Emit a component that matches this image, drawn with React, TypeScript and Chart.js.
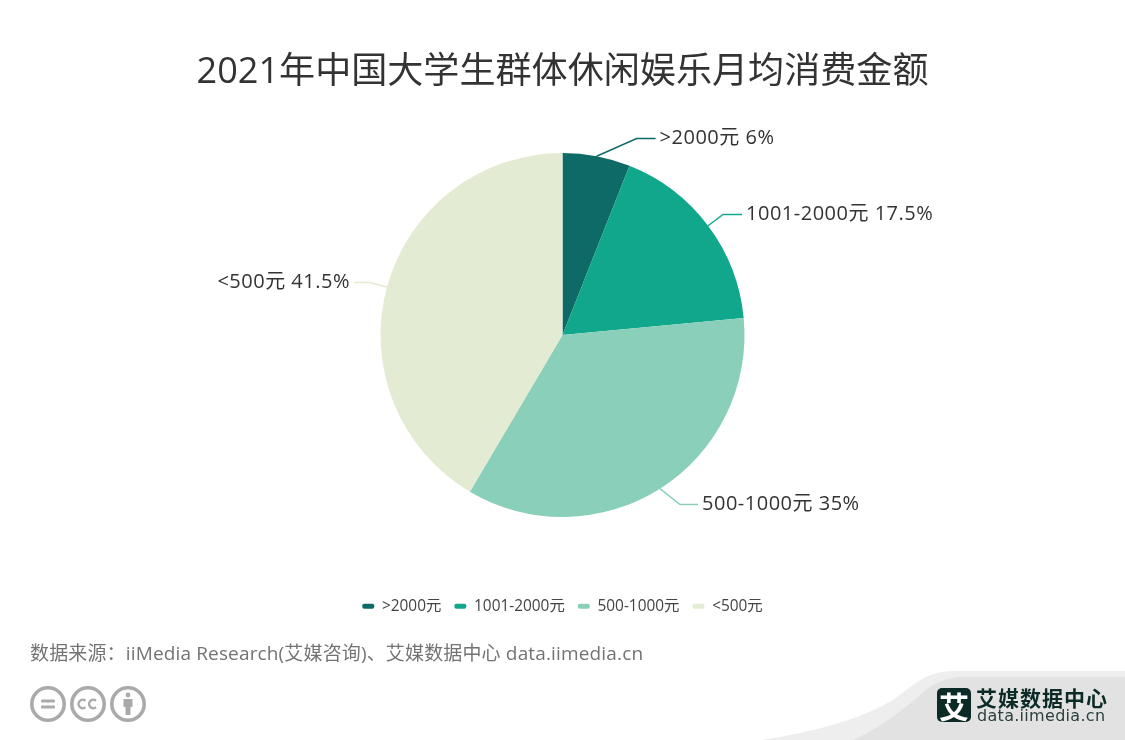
import React, { useEffect, useRef } from "react";
import { Chart, registerables } from "chart.js";

Chart.register(...registerables);

const TITLE = "2021年中国大学生群体休闲娱乐月均消费金额";
const SOURCE = "数据来源\uFF1AiiMedia Research(艾媒咨询)、艾媒数据中心 data.iimedia.cn";
const categories = [">2000元", "1001-2000元", "500-1000元", "<500元"];
const values = [6, 17.5, 35, 41.5];
const colors = ["#0d6a67", "#11a78c", "#8acfba", "#e3ebd3"];
const leaderElbow = [
  { dx: 40, dy: -18, run: 19 },
  { dx: 15, dy: -12, run: 19 },
  { dx: 20, dy: 15, run: 18 },
  { dx: -17, dy: -5, run: 16 },
];
const FONT = '"Open Sans","Noto Sans CJK SC",sans-serif';

const leaderPlugin = {
  id: "leaders",
  afterDatasetsDraw(chart: any) {
    const ctx = chart.ctx;
    chart.getDatasetMeta(0).data.forEach((arc: any, i: number) => {
      const mid = (arc.startAngle + arc.endAngle) / 2;
      const x0 = arc.x + arc.outerRadius * Math.cos(mid);
      const y0 = arc.y + arc.outerRadius * Math.sin(mid);
      const x1 = x0 + leaderElbow[i].dx;
      const y1 = Math.round(y0 + leaderElbow[i].dy) + 0.5;
      const dir = leaderElbow[i].dx > 0 ? 1 : -1;
      const x2 = x1 + dir * leaderElbow[i].run;
      ctx.save();
      ctx.strokeStyle = colors[i];
      ctx.lineWidth = 1.4;
      ctx.beginPath();
      ctx.moveTo(x0, y0);
      ctx.lineTo(x1, y1);
      ctx.lineTo(x2, y1);
      ctx.stroke();
      ctx.fillStyle = "#333333";
      ctx.font = `20px ${FONT}`;
      (ctx as any).letterSpacing = "0.5px";
      ctx.textBaseline = "middle";
      ctx.textAlign = dir > 0 ? "left" : "right";
      ctx.fillText(`${categories[i]} ${values[i]}%`, x2 + dir * 4, y1);
      ctx.restore();
    });
  },
};

export default function App() {
  const ref = useRef<HTMLCanvasElement>(null);
  useEffect(() => {
    const chart = new Chart(ref.current!, {
      type: "pie",
      data: {
        labels: categories,
        datasets: [{ data: values, backgroundColor: colors, borderWidth: 0 }],
      },
      options: {
        responsive: false,
        animation: false,
        layout: { padding: { bottom: 116 } },
        plugins: {
          title: {
            display: true,
            text: TITLE,
            color: "#333333",
            font: { family: FONT, size: 36.1, weight: "normal", lineHeight: 1.2 },
            padding: { top: 51, bottom: 58.7 },
          },
          legend: {
            position: "bottom",
            title: { display: true, text: " ", font: { size: 1 }, padding: { top: 67.4, bottom: 0 } },
            labels: {
              color: "#444444",
              font: { family: FONT, size: 15.4 },
              boxWidth: 12,
              boxHeight: 5,
              padding: 13,
              useBorderRadius: true,
              borderRadius: 2,
            },
          },
          tooltip: { enabled: false },
        },
      } as any,
      plugins: [leaderPlugin],
    });
    return () => chart.destroy();
  }, []);

  return (
    <div style={{ position: "absolute", left: 0, top: 0, width: 1125, height: 740, overflow: "hidden", background: "#fff", fontFamily: FONT }}>
      <svg width={1125} height={740} style={{ position: "absolute", left: 0, top: 0 }}>
        <path d="M762 740 C810 732 855 722 893 700 C910 689 922 671 955 671 L1125 671 L1125 740 Z" fill="#eeeeee" />
        <path d="M853 740 C880 728 900 712 920 695 C932 684 945 677 965 677 L1125 677 L1125 740 Z" fill="#e2e2e2" />
        <g fill="none" stroke="#aaaaaa" strokeWidth={3.6}>
          <circle cx={48} cy={704} r={16.2} />
          <circle cx={88} cy={704} r={16.2} />
          <circle cx={128} cy={704} r={16.2} />
        </g>
        <g fill="#aaaaaa">
          <rect x={41} y={699.5} width={14} height={3} rx={1} />
          <rect x={41} y={705.5} width={14} height={3} rx={1} />
          <circle cx={128} cy={695} r={2.4} />
          <path d="M123.5 699 H132.5 V707 H130.5 V715 H125.5 V707 H123.5 Z" />
        </g>
        <g fill="none" stroke="#aaaaaa" strokeWidth={2.4}>
          <path d="M85.5 700.8 A4.2 4.2 0 1 0 85.5 707.2" />
          <path d="M96 700.8 A4.2 4.2 0 1 0 96 707.2" />
        </g>
        <rect x={937} y={688} width={34} height={34} rx={5} fill="#0c2a26" />
      </svg>
      <canvas ref={ref} width={1125} height={740} style={{ position: "absolute", left: 0, top: 0, display: "block" }} />
      <div style={{ position: "absolute", left: 30, top: 640, fontSize: 19, lineHeight: "26px", color: "#737373", letterSpacing: 0.15, whiteSpace: "nowrap" }}>{SOURCE}</div>
      <div style={{ position: "absolute", left: 937, top: 688, width: 34, height: 34, lineHeight: "34px", textAlign: "center", fontSize: 30, fontWeight: 700, color: "#ffffff", fontFamily: '"Noto Sans CJK SC"' }}>艾</div>
      <div style={{ position: "absolute", left: 976, top: 685, fontSize: 21, lineHeight: "24px", fontWeight: 700, color: "#0c2a26", letterSpacing: 1, whiteSpace: "nowrap", fontFamily: '"Noto Sans CJK SC"' }}>艾媒数据中心</div>
      <div style={{ position: "absolute", left: 977, top: 707, fontSize: 16, lineHeight: "18px", color: "#2a3f3c", letterSpacing: 0.3, whiteSpace: "nowrap", fontFamily: '"DejaVu Sans"' }}>data.iimedia.cn</div>
    </div>
  );
}
